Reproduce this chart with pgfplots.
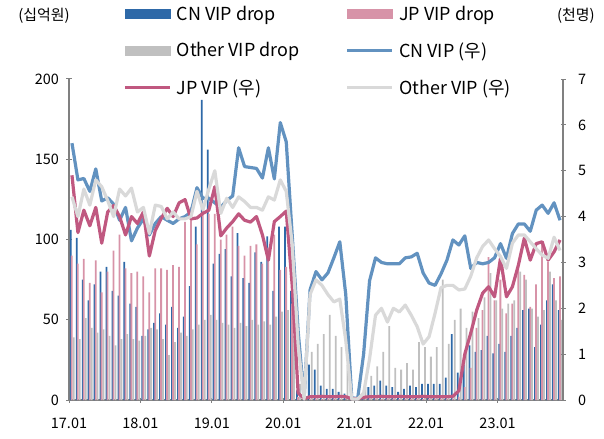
\documentclass[border=0pt]{standalone}
\usepackage{pgfplots}
\pgfplotsset{compat=1.18}
\usepackage{pgfplotstable}
\usepackage{fontspec}
\setmainfont{Noto Sans CJK KR}
\definecolor{cnbar}{RGB}{46,105,168}
\definecolor{jpbar}{RGB}{215,147,168}
\definecolor{otbar}{RGB}{192,192,192}
\definecolor{cnline}{RGB}{98,146,192}
\definecolor{jpline}{RGB}{192,88,128}
\definecolor{otline}{RGB}{217,217,217}
\definecolor{axgray}{RGB}{128,128,128}

\pgfplotstableread{
x cnd jpd otd cnv jpv otv
0.5 106 90 39 5.60 4.90 4.43
1.5 101 85 38 4.80 3.65 4.00
2.5 75 88 51 4.83 4.14 4.60
3.5 62 73 45 4.55 3.80 4.25
4.5 72 87 42 5.04 4.20 4.80
5.5 80 67 44 4.34 3.42 4.65
6.5 83 80 40 4.41 4.10 4.35
7.5 68 93 34 4.27 4.24 4.00
8.5 65 103 38 3.92 4.00 4.60
9.5 86 82 41 4.20 3.60 4.45
10.5 60 79 38 3.47 4.00 4.62
11.5 58 80 37 3.75 3.85 4.10
12.5 40 77 40 3.95 4.10 4.20
13.5 44 67 45 3.60 3.14 3.63
14.5 48 82 44 3.85 3.70 4.25
15.5 54 82 38 4.00 3.96 4.22
16.5 47 81 28 3.92 4.18 3.95
17.5 58 84 36 3.85 4.00 4.10
18.5 45 83 42 3.95 4.30 3.95
19.5 52 111 40 4.00 4.37 3.95
20.5 71 120 44 4.10 3.95 4.00
21.5 108 97 47 4.63 3.97 4.55
22.5 187 122 50 4.40 4.07 4.15
23.5 156 116 53 4.40 4.14 4.60
24.5 85 116 50 4.30 4.65 5.00
25.5 91 100 48 4.20 3.58 4.07
26.5 94 103 47 4.35 3.75 4.40
27.5 77 108 45 4.45 3.89 4.20
28.5 104 96 48 5.50 4.06 4.43
29.5 76 90 46 5.09 3.92 4.33
30.5 73 96 50 5.07 3.88 4.20
31.5 92 97 47 5.05 4.00 4.20
32.5 86 85 49 4.84 3.60 4.14
33.5 102 95 47 5.50 3.05 4.43
34.5 68 103 52 4.82 3.89 4.36
35.5 108 81 55 6.05 4.00 4.80
36.5 108 83 56 5.63 4.12 4.55
37.5 68 60 40 3.60 2.50 3.40
38.5 6 2 10 1.50 0.15 1.20
39.5 0 0 0 0.03 0.03 0.02
40.5 22 0.5 30 2.40 0.07 2.30
41.5 19 0.5 35 2.80 0.07 2.62
42.5 9 0.5 41 2.62 0.08 2.50
43.5 7 0.5 53 2.77 0.07 2.30
44.5 7 0.5 40 3.10 0.07 2.14
45.5 5 0.5 33 3.45 0.08 2.20
46.5 4 0.3 22 2.30 0.07 1.30
47.5 0 0 0 0.05 0.03 0.02
48.5 0 0 0 0.03 0.03 0.02
49.5 2 0.3 8 1.00 0.06 0.15
50.5 8 0.5 15 2.60 0.07 0.90
51.5 9 0.5 21 3.10 0.07 1.85
52.5 12 0.5 30 3.00 0.08 2.00
53.5 9 0.5 46 2.97 0.07 1.70
54.5 8 0.5 20 2.97 0.07 2.00
55.5 5 0.5 19 2.97 0.08 1.92
56.5 7 0.5 23 3.10 0.07 2.07
57.5 9 0.5 19 3.12 0.07 1.85
58.5 8 0.5 36 3.20 0.07 1.60
59.5 10 0.5 33 2.77 0.08 1.22
60.5 10 0.5 27 2.55 0.07 1.38
61.5 10 0.5 33 2.50 0.07 1.89
62.5 10 0.5 75 2.75 0.07 2.45
63.5 14 0.5 35 3.05 0.07 2.50
64.5 41 1 50 3.49 0.08 2.50
65.5 17 2 57 3.38 0.20 2.40
66.5 22 8 45 3.58 1.00 2.42
67.5 34 20 55 2.87 1.46 2.70
68.5 30 45 51 3.00 1.96 3.10
69.5 31 56 64 2.97 2.33 3.35
70.5 40 89 79 3.00 2.47 3.49
71.5 29 62 62 3.10 2.25 3.30
72.5 35 75 57 3.41 3.09 3.13
73.5 30 54 60 3.09 2.25 2.87
74.5 40 60 62 3.63 2.47 3.42
75.5 45 84 80 3.84 2.94 3.60
76.5 56 78 75 3.84 3.53 3.60
77.5 57 58 57 3.68 3.05 3.45
78.5 33 72 52 4.14 3.41 3.30
79.5 47 99 56 4.25 3.45 3.16
80.5 62 86 80 4.07 3.05 3.09
81.5 72 76 62 4.30 3.23 3.55
82.5 56 77 50 3.92 3.49 3.26
}\data

\begin{document}
\begin{tikzpicture}
\useasboundingbox (-69bp,-39bp) rectangle (535bp,400bp);
\pgfplotsset{
  base/.style={
    scale only axis, width=494bp, height=321bp,
    at={(0,0)}, anchor=south west,
    xmin=0, xmax=83,
    tick align=outside, major tick length=5bp,
    tick style={axgray, line width=1bp},
    ticklabel style={font=\fontsize{14.5}{16}\selectfont},
    /pgf/number format/assume math mode=true,
  },
  noarrow/.style={
    axis line style={axgray, line width=1.3bp, -},
    every outer x axis line/.append style={-},
    every outer y axis line/.append style={-},
  }
}
\begin{axis}[base, ymin=0, ymax=200, ytick={0,50,...,200},
  axis x line=bottom, axis y line=left,
  xtick={0,12,...,72},
  xticklabels={17.01,18.01,19.01,20.01,21.01,22.01,23.01},
  xticklabel style={yshift=-12bp},
  yticklabel style={xshift=-4bp},
  noarrow]
\addplot[ybar, bar width=0.3, bar shift=-0.2, fill=cnbar, draw=none] table[x=x,y=cnd]{\data};
\addplot[ybar, bar width=0.3, bar shift=-0.02, fill=jpbar, draw=none] table[x=x,y=jpd]{\data};
\addplot[ybar, bar width=0.3, bar shift=0.3, fill=otbar, draw=none] table[x=x,y=otd]{\data};
\end{axis}
\begin{axis}[base, ymin=0, ymax=7, ytick={0,1,...,7},
  axis y line=right, axis x line=none, clip=false,
  yticklabel style={xshift=9bp},
  noarrow,
  legend columns=2,
  legend cell align=left,
  legend style={draw=none, fill=none, at={(0.1094,1.235)}, anchor=north west,
    inner sep=0pt, row sep=17bp, font=\fontsize{18}{20}\selectfont,
    /tikz/every odd column/.append style={column sep=3bp}},
  ]
\addlegendimage{legend image code/.code={\fill[cnbar] (0bp,-4.5bp) rectangle (45bp,4.5bp);}}
\addlegendentry{\makebox[167bp][l]{CN VIP drop}}
\addlegendimage{legend image code/.code={\fill[jpbar] (0bp,-4.5bp) rectangle (45bp,4.5bp);}}
\addlegendentry{JP VIP drop}
\addlegendimage{legend image code/.code={\fill[otbar] (0bp,-4.5bp) rectangle (45bp,4.5bp);}}
\addlegendentry{\makebox[167bp][l]{Other VIP drop}}
\addlegendimage{legend image code/.code={\draw[cnline, line width=3.5bp] (0bp,0bp) -- (45bp,0bp);}}
\addlegendentry{CN VIP (우)}
\addlegendimage{legend image code/.code={\draw[jpline, line width=3.5bp] (0bp,0bp) -- (45bp,0bp);}}
\addlegendentry{\makebox[167bp][l]{JP VIP (우)}}
\addlegendimage{legend image code/.code={\draw[otline, line width=3.5bp] (0bp,0bp) -- (45bp,0bp);}}
\addlegendentry{Other VIP (우)}
\addplot[forget plot, cnline, line width=3.2bp, line join=round] table[x=x,y=cnv]{\data};
\addplot[forget plot, jpline, line width=3.2bp, line join=round] table[x=x,y=jpv]{\data};
\addplot[forget plot, otline, line width=3.2bp, line join=round] table[x=x,y=otv]{\data};
\node[font=\fontsize{15}{17}\selectfont] at (rel axis cs:-0.0506,1.196) {(십억원)};
\node[font=\fontsize{15}{17}\selectfont] at (rel axis cs:1.026,1.196) {(천명)};
\end{axis}
\end{tikzpicture}
\end{document}
